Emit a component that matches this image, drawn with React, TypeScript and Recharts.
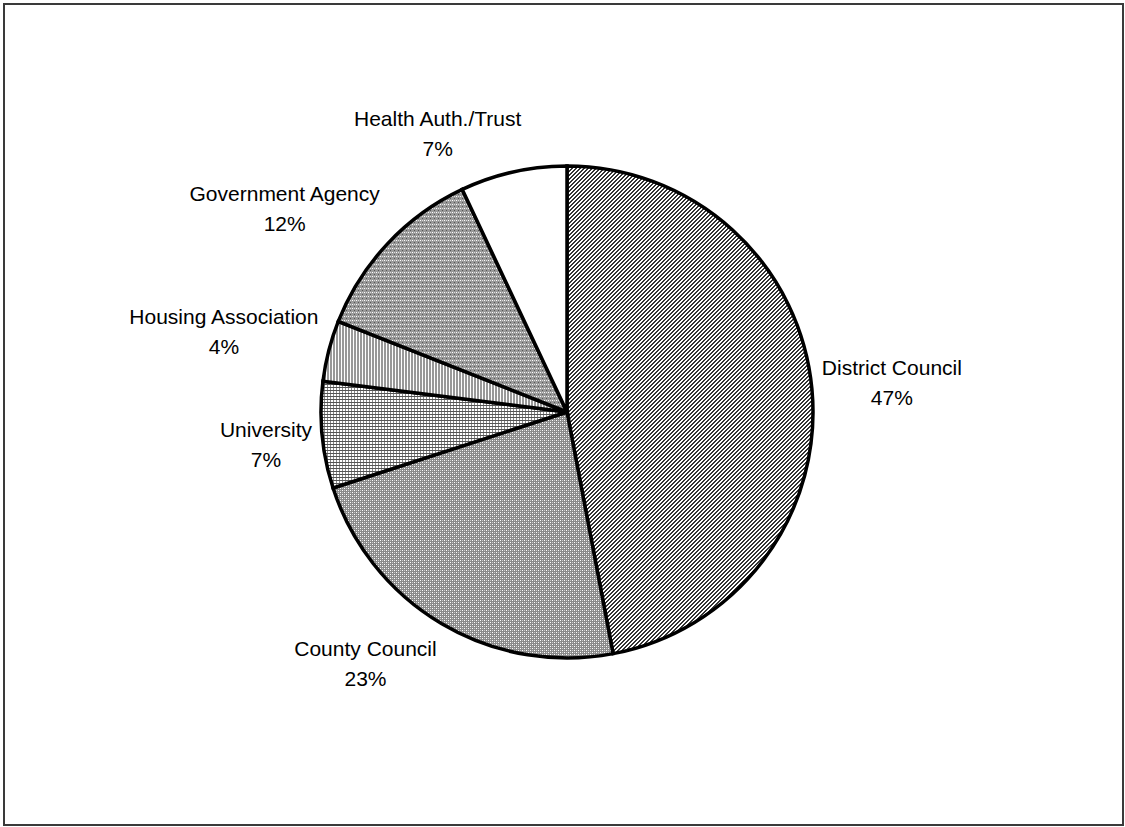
import { PieChart, Pie, Cell } from 'recharts'

const sectors = ['District Council', 'County Council', 'University', 'Housing Association', 'Government Agency', 'Health Auth./Trust']
const shares = [47, 23, 7, 4, 12, 7]
const fills = ['url(#diag)', 'url(#weave)', 'url(#grid)', 'url(#vert)', 'url(#dots)', '#ffffff']

const data = sectors.map((name, i) => ({ name, value: shares[i] }))

const FONT = "21px 'Liberation Sans', Arial, sans-serif"
const RAD = Math.PI / 180

let ctx: CanvasRenderingContext2D | null = null
function textWidth(s: string) {
  if (!ctx) ctx = document.createElement('canvas').getContext('2d')
  if (!ctx) return s.length * 10
  ctx.font = FONT
  return ctx.measureText(s).width
}

const clamp = (v: number) => Math.max(-1, Math.min(1, v))

// label box sits just outside the rim, pushed away along the slice's middle direction
function renderLabel(props: any) {
  const { cx, cy, midAngle, outerRadius, name, value } = props
  const dx = Math.cos(-midAngle * RAD)
  const dy = Math.sin(-midAngle * RAD)
  const px = cx + (outerRadius + 10) * dx
  const py = cy + (outerRadius + 10) * dy
  const w = Math.max(textWidth(name), textWidth(value + '%'))
  const lx = px + clamp(dx * 4) * (w / 2)
  const ly = py + clamp(dy * 2.5) * 30
  return (
    <text x={lx} y={ly} textAnchor="middle" fill="#000" style={{ font: FONT }}>
      <tspan x={lx} dy={-6}>{name}</tspan>
      <tspan x={lx} dy={30}>{value}%</tspan>
    </text>
  )
}

function Patterns() {
  return (
    <svg width={0} height={0} style={{ position: 'absolute' }}>
      <defs>
        <pattern id="diag" width={4} height={4} patternUnits="userSpaceOnUse">
          <rect width={4} height={4} fill="#fff" />
          <rect x={0} y={3} width={1} height={1} fill="#333" />
          <rect x={1} y={2} width={1} height={1} fill="#333" />
          <rect x={2} y={1} width={1} height={1} fill="#333" />
          <rect x={3} y={0} width={1} height={1} fill="#333" />
          <rect x={0} y={0} width={1} height={1} fill="#333" />
          <rect x={1} y={3} width={1} height={1} fill="#333" />
          <rect x={2} y={2} width={1} height={1} fill="#333" />
          <rect x={3} y={1} width={1} height={1} fill="#333" />
        </pattern>
        <pattern id="weave" width={4} height={4} patternUnits="userSpaceOnUse">
          <rect width={4} height={4} fill="#8a8a8a" />
          <rect x={0} y={0} width={1} height={1} fill="#fff" />
          <rect x={2} y={2} width={1} height={1} fill="#fff" />
          <rect x={2} y={0} width={1} height={1} fill="#c8c8c8" />
          <rect x={0} y={2} width={1} height={1} fill="#c8c8c8" />
        </pattern>
        <pattern id="grid" width={3} height={3} patternUnits="userSpaceOnUse">
          <rect width={3} height={3} fill="#fff" />
          <rect x={0} y={0} width={1} height={3} fill="#888" />
          <rect x={0} y={0} width={3} height={1} fill="#555" />
        </pattern>
        <pattern id="vert" width={3} height={3} patternUnits="userSpaceOnUse">
          <rect width={3} height={3} fill="#fff" />
          <rect x={0} y={0} width={2} height={3} fill="#999" />
        </pattern>
        <pattern id="dots" width={4} height={4} patternUnits="userSpaceOnUse">
          <rect width={4} height={4} fill="#999" />
          <rect x={0} y={0} width={1} height={1} fill="#fff" />
          <rect x={2} y={2} width={1} height={1} fill="#555" />
          <rect x={2} y={0} width={1} height={1} fill="#ddd" />
        </pattern>
      </defs>
    </svg>
  )
}

export default function App() {
  return (
    <div style={{ position: 'absolute', left: 0, top: 0, width: 1125, height: 827, background: '#fff' }}>
      <Patterns />
      <div
        style={{
          position: 'absolute',
          left: 3,
          top: 3,
          width: 1117,
          height: 819,
          border: '2px solid #3a3a3a',
        }}
      />
      <div style={{ position: 'absolute', left: 0, top: 0 }}>
        <PieChart width={1125} height={827} margin={{ top: 0, right: 0, bottom: 0, left: 0 }}>
          <Pie
            data={data}
            dataKey="value"
            nameKey="name"
            cx={567}
            cy={412}
            outerRadius={246}
            startAngle={90}
            endAngle={-270}
            stroke="#000"
            strokeWidth={3.5}
            label={renderLabel}
            labelLine={false}
            isAnimationActive={false}
          >
            {data.map((d, i) => (
              <Cell key={d.name} fill={fills[i]} />
            ))}
          </Pie>
        </PieChart>
      </div>
    </div>
  )
}
